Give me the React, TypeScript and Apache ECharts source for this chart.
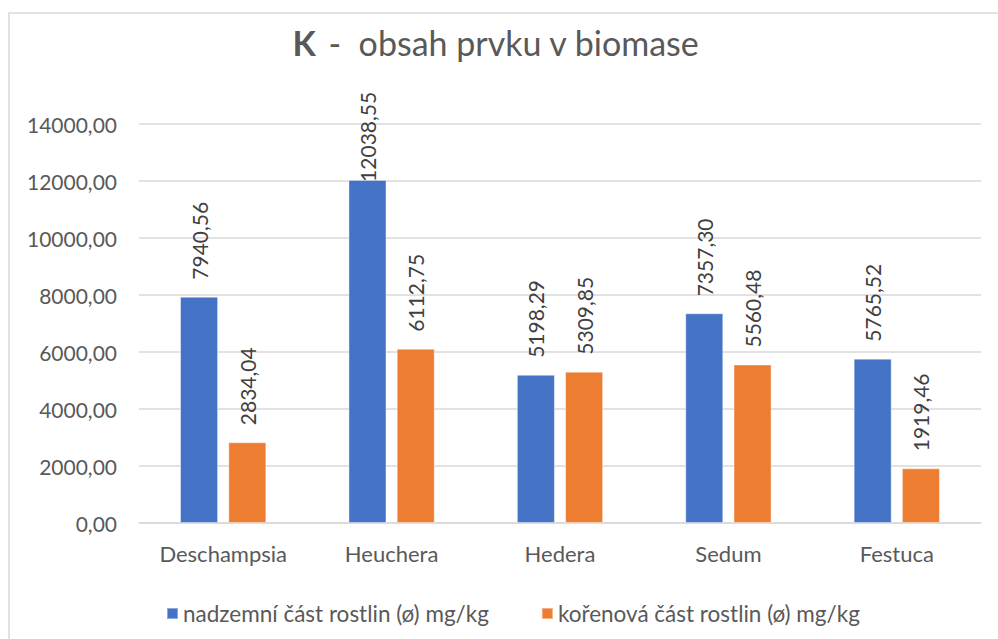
import React, { useEffect, useRef } from "react";
import * as echarts from "echarts";

const categories = ["Deschampsia", "Heuchera", "Hedera", "Sedum", "Festuca"];
const nadzemni = [7940.56, 12038.55, 5198.29, 7357.3, 5765.52];
const korenova = [2834.04, 6112.75, 5309.85, 5560.48, 1919.46];
const seriesNames = ["nadzemní část rostlin (ø) mg/kg", "kořenová část rostlin (ø) mg/kg"];
const yTicks = { min: 0, max: 14000, interval: 2000 };

const FONT = "Lato";
const fmt = (v: number) => v.toFixed(2).replace(".", ",");

export default function App() {
  const ref = useRef<HTMLDivElement>(null);
  useEffect(() => {
    if (!ref.current) return;
    const chart = echarts.init(ref.current, undefined, { renderer: "svg" });
    const labelOpt = {
      show: true,
      position: "top" as const,
      rotate: 90,
      align: "left" as const,
      verticalAlign: "middle" as const,
      distance: 17,
      color: "#404040",
      fontFamily: FONT,
      fontSize: 21,
      formatter: (p: any) => fmt(p.value),
    };
    // labels that would leave the chart area are pulled down onto the bar top (as in the original)
    const toData = (arr: number[]) =>
      arr.map((v) => (v > 11000 ? { value: v, label: { distance: -2 } } : v));
    chart.setOption({
      animation: false,
      textStyle: { fontFamily: FONT },
      graphic: [
        {
          type: "rect",
          shape: { x: 9, y: 13, width: 1010, height: 700 },
          style: { fill: "none", stroke: "#d9d9d9", lineWidth: 1.5 },
          silent: true,
        },
        {
          type: "text",
          x: 496,
          y: 59,
          style: {
            text: "{k|K}{s| }{r|-  obsah prvku v biomase}",
            align: "center",
            verticalAlign: "bottom",
            rich: {
              k: { fontFamily: FONT, fontSize: 34, fontWeight: "bold", fill: "#595959", color: "#595959" },
              s: { fontFamily: FONT, fontSize: 34, width: 12 },
              r: { fontFamily: FONT, fontSize: 34, fill: "#595959", color: "#595959" },
            },
          },
        },
      ],
      legend: {
        left: 161,
        top: 597,
        itemWidth: 11,
        itemHeight: 11,
        itemGap: 52,
        icon: "rect",
        textStyle: { color: "#595959", fontFamily: FONT, fontSize: 22.5 },
        data: seriesNames,
      },
      grid: { left: 139, right: 17, top: 124, bottom: 116, containLabel: false },
      xAxis: {
        type: "category",
        data: categories,
        axisLine: { lineStyle: { color: "#d9d9d9", width: 1.5 } },
        axisTick: { show: false },
        axisLabel: { color: "#595959", fontFamily: FONT, fontSize: 22, margin: 19 },
      },
      yAxis: {
        type: "value",
        min: yTicks.min,
        max: yTicks.max,
        interval: yTicks.interval,
        axisLine: { show: false },
        axisTick: { show: false },
        splitLine: { lineStyle: { color: "#d9d9d9", width: 1.5 } },
        axisLabel: {
          color: "#595959",
          fontFamily: FONT,
          fontSize: 21,
          margin: 22,
          formatter: (v: number) => fmt(v),
        },
      },
      series: [
        {
          name: seriesNames[0],
          type: "bar",
          data: toData(nadzemni),
          barWidth: 38,
          barGap: "27%",
          itemStyle: { color: "#4472C4", borderColor: "rgba(255,255,255,0.4)", borderWidth: 1 },
          label: labelOpt,
        },
        {
          name: seriesNames[1],
          type: "bar",
          data: toData(korenova),
          barWidth: 38,
          barGap: "27%",
          itemStyle: { color: "#ED7D31", borderColor: "rgba(255,255,255,0.4)", borderWidth: 1 },
          label: labelOpt,
        },
      ],
    });
    return () => chart.dispose();
  }, []);
  return (
    <div
      ref={ref}
      style={{ position: "absolute", left: 0, top: 0, width: 998, height: 639, background: "#fff" }}
    />
  );
}
